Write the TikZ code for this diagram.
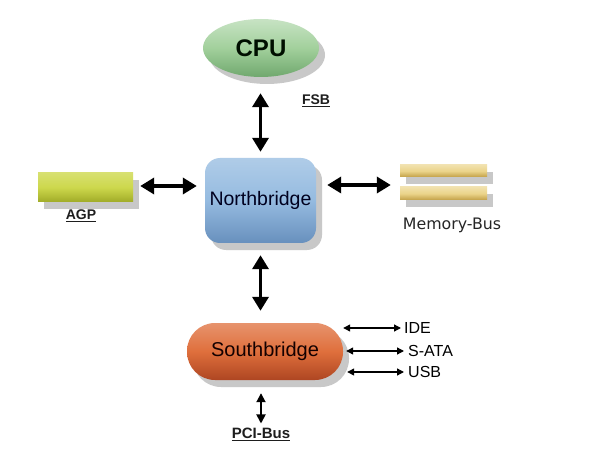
\documentclass[tikz,border=0pt]{standalone}
\usepackage{fontspec}
\setmainfont{Liberation Sans}
\newfontfamily\verdanaish{DejaVu Sans}
\usetikzlibrary{arrows.meta,shapes.geometric,shapes.misc,shadows}
\definecolor{cpugreen}{HTML}{A2D09C}
\definecolor{cpugreenD}{HTML}{70A86E}
\definecolor{nbblue}{HTML}{95BBE0}
\definecolor{nbblueD}{HTML}{6890BD}
\definecolor{agpY}{HTML}{CDD84C}
\definecolor{agpYD}{HTML}{A0AB28}
\definecolor{memY}{HTML}{EBD48A}
\definecolor{memYD}{HTML}{C2A047}
\definecolor{sbO}{HTML}{DF6F3C}
\definecolor{sbOD}{HTML}{AE4622}
\definecolor{txtdark}{HTML}{1E1E1E}
\tikzset{
  shad/.style={drop shadow={shadow xshift=6pt,shadow yshift=-7pt,opacity=0.3,fill=black!70}},
  bigarrow/.style={line width=3.5pt,draw=black,{Triangle[length=14pt,width=16pt]}-{Triangle[length=14pt,width=16pt]}},
  smallarrow/.style={line width=1.3pt,draw=black,{Triangle[length=7pt,width=7pt]}-{Triangle[length=7pt,width=7pt]}},
  pciarrow/.style={line width=1.8pt,draw=black,{Triangle[length=9pt,width=9pt]}-{Triangle[length=9pt,width=9pt]}},
  boldlabel/.style={font=\fontsize{14pt}{16pt}\selectfont\bfseries,text=txtdark,inner sep=0pt},
  plainlabel/.style={font=\fontsize{16pt}{18pt}\selectfont,text=black,inner sep=0pt,anchor=west},
}
\begin{document}
\begin{tikzpicture}[x=1pt,y=-1pt]
\useasboundingbox[fill=white] (0,0) rectangle (589,465);
% CPU
\node[ellipse,minimum width=116pt,minimum height=58pt,shad,
      top color=cpugreen!60!white,bottom color=cpugreenD,middle color=cpugreen,
      font=\fontsize{24pt}{26pt}\selectfont\bfseries,text=black!85!green!40!black] (cpu) at (261,48) {CPU};
\node[boldlabel] (fsb) at (316,101) {\underline{FSB}};
% Northbridge
\node[rectangle,rounded corners=15pt,minimum width=111pt,minimum height=85pt,shad,
      top color=nbblue!75!white,bottom color=nbblueD,middle color=nbblue,
      font=\fontsize{19.5pt}{21pt}\selectfont,text=black!80!blue!60!black] (nb) at (260.5,200.5) {Northbridge};
% AGP
\node[rectangle,minimum width=95pt,minimum height=29pt,shad,
      top color=agpY!80!white,bottom color=agpYD,middle color=agpY] (agp) at (85.5,187.5) {};
\node[boldlabel] (agplbl) at (81,216) {\underline{AGP}};
% Memory
\node[rectangle,minimum width=87pt,minimum height=12pt,shad,
      top color=memY!70!white,bottom color=memYD,middle color=memY] (mem1) at (443.5,171) {};
\node[rectangle,minimum width=87pt,minimum height=13pt,shad,
      top color=memY!70!white,bottom color=memYD,middle color=memY] (mem2) at (443.5,193.5) {};
\coordinate (memc) at (443.5,185);
\node[font=\verdanaish\fontsize{15.8pt}{17pt}\selectfont,text=black!85,inner sep=0pt] (memlbl) at (452,225) {Memory-Bus};
% Southbridge
\node[rectangle,rounded corners=28pt,minimum width=156pt,minimum height=57pt,shad,
      top color=sbO!75!white,bottom color=sbOD,middle color=sbO,
      font=\fontsize{20pt}{22pt}\selectfont,text=black!85!red!50!black] (sb) at (265,351.5) {Southbridge};
\node[plainlabel] (ide) at (404,328) {IDE};
\node[plainlabel] (sata) at (408,351) {S-ATA};
\node[plainlabel] (usb) at (408,372) {USB};
\node[boldlabel,font=\fontsize{15pt}{17pt}\selectfont\bfseries] (pci) at (261,434) {\underline{PCI-Bus}};
% connectors
\draw[bigarrow,shorten <=16pt,shorten >=6pt] (cpu.south -| nb) -- (nb.north);
\draw[bigarrow,shorten <=7pt,shorten >=8pt] (agp.east |- 0,186) -- (nb.west |- 0,186);
\draw[bigarrow,shorten <=11pt,shorten >=9pt] (nb.east |- memc) -- (mem1.west |- memc);
\draw[bigarrow,shorten <=12pt,shorten >=12pt] (nb.south) -- (nb.south |- sb.north);
\draw[smallarrow,shorten >=3pt] (sb.east |- ide.west) -- (ide.west);
\draw[smallarrow,shorten <=3pt,shorten >=4pt] (sb.east |- sata.west) -- (sata.west);
\draw[smallarrow,shorten <=4pt,shorten >=4pt] (sb.east |- usb.west) -- (usb.west);
\draw[pciarrow,shorten <=13pt,shorten >=4pt] (sb.south -| pci) -- (pci.north);
\end{tikzpicture}
\end{document}
